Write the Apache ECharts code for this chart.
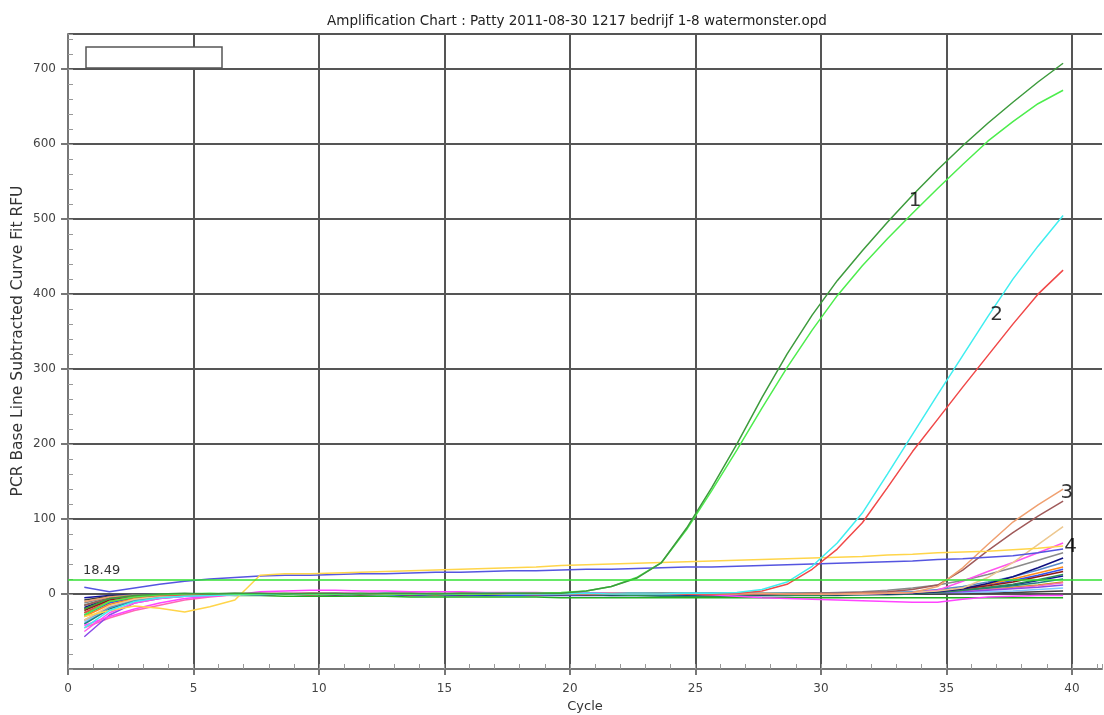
<!DOCTYPE html>
<html>
<head>
<meta charset="UTF-8">
<title>Amplification Chart</title>
<script src="https://cdn.jsdelivr.net/npm/echarts@6/dist/echarts.min.js"></script>
<style>
  html, body { margin: 0; padding: 0; background: #fff; }
  #chart { width: 1104px; height: 715px; }
</style>
</head>
<body>
<div id="chart"></div>
<script>
// cycle position of every reading (the instrument plots them a bit left of the integer)
var cycles = [0.65,1.65,2.65,3.65,4.65,5.65,6.65,7.65,8.65,9.65,10.65,11.65,12.65,13.65,14.65,15.65,16.65,17.65,18.65,19.65,
              20.65,21.65,22.65,23.65,24.65,25.65,26.65,27.65,28.65,29.65,30.65,31.65,32.65,33.65,34.65,35.65,36.65,37.65,38.65,39.65];

var threshold = 18.49;

// wells, RFU per cycle
var darkGreen  = [-20,-6,-2,0,1,0,1,1,0,1,1,0,1,1,0,1,1,1,1,1, 4,10,21,42,88,142,200,262,320,372,418,458,496,532,566,598,628,656,683,708];
var lightGreen = [-28,-10,-4,-1,0,1,0,0,1,0,0,1,0,0,1,0,0,1,1,2, 4,10,22,42,86,138,192,248,302,352,398,438,474,508,541,573,604,630,654,672];
var cyan       = [-45,-22,-10,-5,-3,-2,-1,-1,0,0,0,0,1,0,0,0,1,0,0,0,1,0,0,0,1,1, 2,6,16,37,68,108,160,213,266,318,370,420,464,505];
var red        = [-25,-10,-4,-2,-1,-1,0,0,0,-1,0,0,0,-1,0,0,0,0,-1,0,0,0,0,0,0,0, 1,4,13,33,60,95,142,190,233,276,318,360,400,432];
var tan        = [-10,-4,-2,-1,0,0,0,0,0,1,0,0,0,0,0,1,0,0,0,0,0,1,0,0,0,0,0,1,0,0,0,1,1, 2,10,35,66,96,119,140];
var brown      = [-15,-6,-3,-1,-1,0,0,0,0,0,0,0,0,0,0,0,0,0,0,0,0,0,0,0,0,0,0,0,0,1,1,2,3, 6,12,32,58,82,104,124];
var lightTan   = [-35,-16,-7,-3,-2,-1,-1,0,0,0,0,0,0,0,0,0,0,0,0,0,0,0,0,0,0,0,0,0,0,0,0,0,1,2,4, 8,22,42,66,90];
var magenta    = [-50,-25,-12,-6,-3,-2,-1,0,1,1,1,1,1,1,1,0,0,0,0,0,0,0,0,0,0,0,0,0,0,0,0,0,1,2, 5,17,30,42,55,68];
var pinkDip    = [-42,-30,-20,-12,-6,-3,-1,3,4,5,5,4,4,3,3,3,2,2,2,1,1,1,0,0,0,-1,-3,-5,-6,-7,-8,-9,-10,-11,-11,-7,-4,-3,-2,-2];
var yellow     = [-30,-22,-16,-19,-24,-17,-8,25,27,27,28,29,30,31,32,33,34,35,36,38,39,40,41,42,43,44,45,46,47,48,49,50,52,53,55,56,57,59,61,64];
var blue       = [9,3,8,13,17,20,22,24,25,25,26,27,27,28,29,29,30,31,31,32,33,33,34,35,36,36,37,38,39,40,41,42,43,44,46,47,49,51,55,60];
var navy       = [-18,-6,-2,-1,0,-1,0,-1,0,0,-1,0,0,-1,0,0,-1,0,0,-1,0,-1,0,0,-1,0,0,-1,0,0,-1,0,0,1,3,7,14,23,35,48];
var steel      = [-35,-18,-8,-4,-2,-1,-1,0,0,0,0,1,0,0,0,1,0,0,0,0,1,0,0,0,0,1,0,0,0,0,1,1,2,3,6,10,16,23,32,42];
var gray       = [-12,-4,-1,0,0,0,1,0,0,0,1,0,0,0,1,0,0,0,0,1,0,0,0,1,0,0,0,0,1,1,2,3,5,8,12,18,26,35,45,55];
var darkRed    = [-22,-8,-3,-1,0,0,0,-1,0,0,0,-1,0,0,0,-1,0,0,0,0,-1,0,0,0,0,-1,0,0,0,0,0,1,1,2,4,7,11,16,23,30];
var orange     = [-30,-14,-6,-3,-2,-1,-1,-1,0,0,-1,0,0,0,-1,0,0,0,0,-1,0,0,0,0,0,-1,0,0,0,0,0,0,1,2,4,8,13,20,28,36];
var seaGreen   = [-15,-5,-2,-1,0,0,0,0,0,-1,0,0,0,0,-1,0,0,0,0,0,-1,-2,-2,-3,-3,-3,-3,-2,-2,-2,-2,-1,-1,0,2,5,9,13,19,26];
var green      = [-25,-10,-4,-2,-1,-1,-2,-2,-3,-3,-3,-3,-3,-4,-4,-4,-4,-4,-4,-5,-5,-5,-5,-5,-5,-5,-5,-5,-5,-5,-5,-5,-5,-5,-5,-5,-5,-5,-5,-5];
var teal       = [-40,-20,-9,-4,-2,-1,-1,0,0,0,0,0,0,0,0,1,1,1,1,1,1,1,1,1,1,1,1,1,1,1,1,1,2,2,3,5,8,11,15,20];
var royal      = [-28,-12,-5,-2,-1,0,0,0,0,-1,-1,-1,-1,-2,-2,-2,-2,-2,-2,-2,-2,-2,-2,-2,-2,-2,-2,-2,-2,-1,-1,-1,0,1,3,7,12,18,25,33];
var violet     = [-57,-28,-12,-6,-3,-2,-1,-1,0,0,0,0,0,0,0,0,0,0,0,0,0,0,0,0,0,0,0,0,0,0,0,0,0,1,2,3,5,7,9,12];
var pink       = [-45,-32,-22,-15,-8,-4,-1,1,1,1,1,1,1,1,0,0,0,0,0,0,0,0,0,0,0,0,0,0,0,0,0,1,1,2,3,4,6,8,11,15];
var lightBlue  = [-38,-18,-9,-5,-3,-2,-1,-1,0,0,0,0,0,0,0,0,0,1,1,1,1,1,1,1,1,1,1,1,1,1,1,1,1,1,2,2,3,4,6,8];
var charcoal   = [-8,-3,-1,0,0,0,0,0,0,0,0,0,0,0,0,0,0,0,0,0,0,0,0,0,0,0,0,0,0,0,0,0,0,0,0,1,1,2,3,4];
var olive      = [-20,-9,-4,-2,-1,-1,0,0,0,0,0,0,0,0,0,0,0,0,0,0,0,0,0,0,0,0,0,0,0,0,0,0,1,1,2,4,6,9,12,16];
var darkBlue   = [-5,-2,-1,0,0,0,0,0,0,0,0,0,0,0,0,0,0,0,0,0,0,0,0,0,0,0,0,0,0,0,0,0,0,1,2,4,8,12,18,24];

var wells = [
  ['darkBlue', darkBlue, '#1010a0'], ['charcoal', charcoal, '#404040'], ['olive', olive, '#b8a000'],
  ['lightBlue', lightBlue, '#80c8ff'], ['pink', pink, '#ff69b4'], ['violet', violet, '#8a4ce8'],
  ['royal', royal, '#3050f0'], ['teal', teal, '#208080'], ['green', green, '#22b022'],
  ['seaGreen', seaGreen, '#2e8b57'], ['orange', orange, '#ff8c1a'], ['darkRed', darkRed, '#8b1a1a'],
  ['gray', gray, '#8a8a8a'], ['steel', steel, '#5a8ac8'], ['navy', navy, '#101080'],
  ['pinkDip', pinkDip, '#ff44ff'], ['magenta', magenta, '#ff55ee'], ['lightTan', lightTan, '#edc890'],
  ['brown', brown, '#a05a5a'], ['tan', tan, '#f0a070'], ['blue', blue, '#5555e0'],
  ['yellow', yellow, '#ffd54a'], ['red', red, '#f04848'], ['cyan', cyan, '#40eef0'],
  ['lightGreen', lightGreen, '#4ded4d'], ['darkGreen', darkGreen, '#3d9b3d']
];

// group labels written on the chart
var noteNames = ['1', '2', '3', '4'];
var noteCycle = [33.75, 37.0, 39.8, 39.95];
var noteRfu   = [525, 372, 135, 63];

var font = 'DejaVu Sans';
var chart = echarts.init(document.getElementById('chart'));

var series = wells.map(function (w) {
  return {
    name: w[0],
    type: 'line',
    data: cycles.map(function (c, i) { return [c, w[1][i]]; }),
    showSymbol: false,
    symbol: 'none',
    lineStyle: { color: w[2], width: 1.5 },
    itemStyle: { color: w[2] },
    silent: true
  };
});

series.unshift({
  name: 'threshold',
  type: 'line',
  data: [],
  markLine: {
    silent: true,
    symbol: 'none',
    lineStyle: { color: '#33e033', width: 1.5, type: 'solid' },
    label: {
      show: true, position: 'insideStartTop', formatter: String(threshold),
      color: '#333', fontSize: 13, fontFamily: font, distance: [15, 3]
    },
    data: [{ yAxis: threshold }]
  }
});

series.push({
  name: 'notes',
  type: 'scatter',
  symbolSize: 1,
  itemStyle: { color: 'rgba(0,0,0,0)' },
  data: noteNames.map(function (n, i) { return { name: n, value: [noteCycle[i], noteRfu[i]] }; }),
  label: {
    show: true, position: 'inside', formatter: '{b}',
    color: '#000', fontSize: 20, fontFamily: font
  },
  z: 10
});

var option = {
  animation: false,
  backgroundColor: '#fff',
  title: {
    text: 'Amplification Chart : Patty 2011-08-30 1217 bedrijf 1-8 watermonster.opd',
    left: 322, top: 9,
    textStyle: { fontSize: 13.5, fontWeight: 'normal', color: '#222', fontFamily: font }
  },
  grid: { left: 68, right: 2, top: 34, bottom: 46, containLabel: false, outerBoundsMode: 'none' },
  xAxis: [
    {
      type: 'value', min: 0, max: 41.2, interval: 5, position: 'bottom',
      name: 'Cycle', nameLocation: 'middle', nameGap: 30,
      nameTextStyle: { fontSize: 13, color: '#333', fontFamily: font },
      axisLine: { onZero: false, lineStyle: { color: '#777', width: 2 } },
      axisTick: { show: true, length: 6, lineStyle: { color: '#777', width: 2 } },
      axisLabel: { color: '#444', fontSize: 12, margin: 14, fontFamily: font, showMaxLabel: false },
      splitLine: { show: true, showMaxLine: false, lineStyle: { color: '#555', width: 2 } }
    },
    {
      type: 'value', min: 0, max: 41.2, interval: 1, position: 'bottom',
      axisLine: { show: false, onZero: false },
      axisTick: { show: true, inside: true, length: 5, lineStyle: { color: '#999', width: 1 } },
      axisLabel: { show: false },
      splitLine: { show: false }
    }
  ],
  yAxis: [
    {
      type: 'value', min: -100, max: 747, interval: 100, position: 'left',
      axisLine: { show: true, onZero: false, lineStyle: { color: '#777', width: 2 } },
      axisTick: { show: true, length: 7, lineStyle: { color: '#777', width: 2 } },
      axisLabel: { color: '#444', fontSize: 12, margin: 12, fontFamily: font, showMinLabel: false, showMaxLabel: false },
      splitLine: { show: true, lineStyle: { color: '#555', width: 2 } }
    },
    {
      type: 'value', min: -100, max: 747, interval: 20, position: 'left',
      axisLine: { show: false, onZero: false },
      axisTick: { show: true, inside: true, length: 5, lineStyle: { color: '#999', width: 1 } },
      axisLabel: { show: false },
      splitLine: { show: false }
    }
  ],
  graphic: [
    {
      type: 'rect', z: 100,
      shape: { x: 86, y: 47, width: 136, height: 21 },
      style: { fill: '#fff', stroke: '#555', lineWidth: 1.5 }
    },
    {
      type: 'text', z: 100, x: 18, y: 341, rotation: Math.PI / 2,
      style: {
        text: 'PCR Base Line Subtracted Curve Fit RFU', fontSize: 15.5, fill: '#333',
        fontFamily: font, align: 'center', verticalAlign: 'middle'
      }
    }
  ],
  series: series
};

chart.setOption(option);
</script>
</body>
</html>
